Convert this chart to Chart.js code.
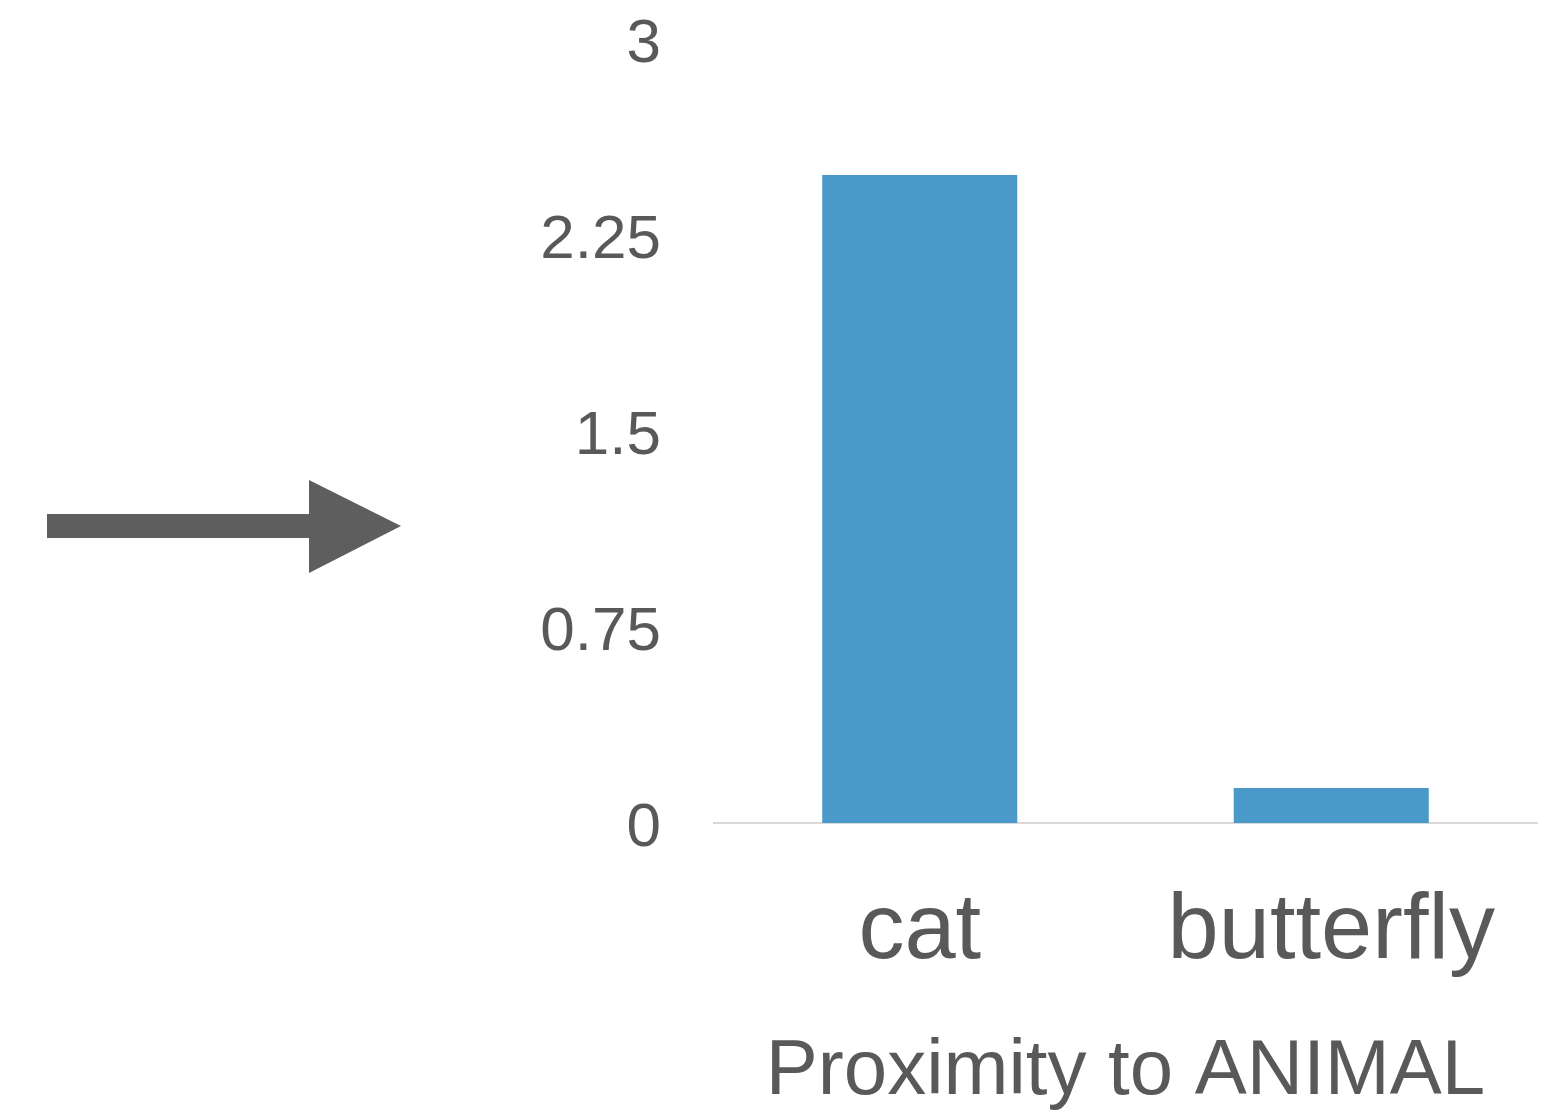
<!DOCTYPE html>
<html>
<head>
<meta charset="utf-8">
<script src="https://cdn.jsdelivr.net/npm/chart.js@4/dist/chart.umd.min.js"></script>
<style>
  html, body { margin: 0; padding: 0; background: #ffffff; }
  #wrap { position: relative; width: 1558px; height: 1111px; }
  #arrow { position: absolute; left: 0; top: 0; }
  canvas { position: absolute; left: 0; top: 0; }
</style>
</head>
<body>
<div id="wrap">
  <canvas id="c" width="1558" height="1111"></canvas>
  <svg id="arrow" width="420" height="1111" xmlns="http://www.w3.org/2000/svg">
    <polygon points="47,514 309,514 309,480 401,526 309,573 309,538 47,538" fill="#5e5e5e"/>
  </svg>
</div>
<script>
const categories = ["cat", "butterfly"];
const proximityValues = [2.48, 0.134];
const yTicks = [0, 0.75, 1.5, 2.25, 3];
const xAxisTitle = "Proximity to ANIMAL";

const TEXT = "#595959";
const FONT = "'Liberation Sans', Arial, Helvetica, sans-serif";

new Chart(document.getElementById("c"), {
  type: "bar",
  data: {
    labels: categories,
    datasets: [{
      data: proximityValues,
      backgroundColor: "#4a99c8",
      borderWidth: 0,
      categoryPercentage: 1.0,
      barPercentage: 0.474
    }]
  },
  options: {
    responsive: false,
    animation: false,
    devicePixelRatio: 1,
    layout: { padding: { left: 0, right: 21, top: 39, bottom: 0 } },
    plugins: { legend: { display: false }, tooltip: { enabled: false } },
    scales: {
      x: {
        grid: { display: false, drawTicks: false },
        border: { display: true, color: "#d9d9d9", width: 2 },
        ticks: { color: TEXT, font: { family: FONT, size: 92 }, padding: 54 },
        title: { display: true, text: xAxisTitle, color: TEXT, font: { family: FONT, size: 78 }, padding: { top: 10, bottom: -8 } },
        afterFit: (s) => { s.height = 1111 - 823; }
      },
      y: {
        min: 0,
        max: 3,
        afterBuildTicks: (s) => { s.ticks = yTicks.map(v => ({ value: v })); },
        grid: { display: false, drawTicks: false },
        border: { display: false },
        ticks: { color: TEXT, font: { family: FONT, size: 62 }, padding: 53, labelOffset: 6,
                 callback: (v) => String(v) },
        afterFit: (s) => { s.width = 714; s.paddingTop = 0; s.paddingBottom = 0; }
      }
    }
  }
});
</script>
</body>
</html>
